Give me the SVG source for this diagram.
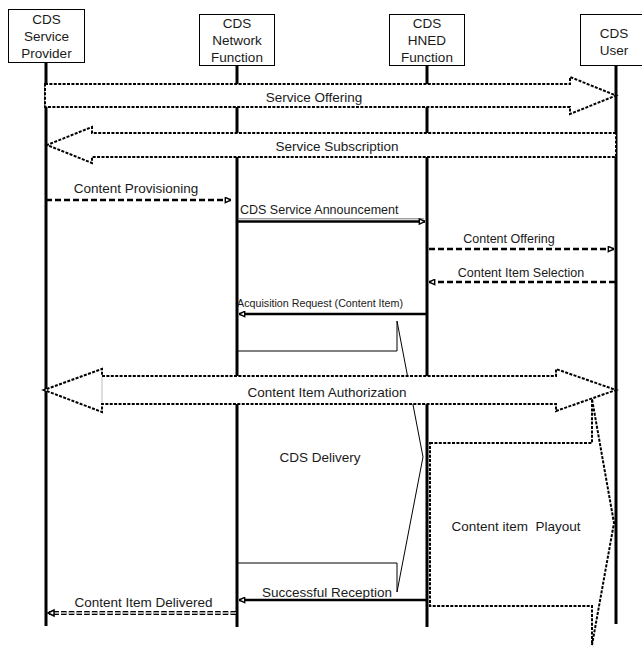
<svg xmlns="http://www.w3.org/2000/svg" width="642" height="648" viewBox="0 0 642 648">
<style>
  text { font-family: "Liberation Sans", Arial, sans-serif; fill: #1a1a1a; }
  .hdr { font-size: 13.5px; text-anchor: middle; }
  .lbl { font-size: 13.5px; text-anchor: middle; }
  .sm { font-size: 12.5px; text-anchor: middle; }
  .box { fill: #fff; stroke: #000; stroke-width: 1; }
  .life { stroke: #000; stroke-width: 3; }
  .blk { fill: #fff; stroke: #000; stroke-width: 2; stroke-dasharray: 3 1.4; }
  .dmsg { fill: none; stroke: #000; stroke-width: 2.5; stroke-dasharray: 6 3; }
  .smsg { fill: none; stroke: #000; stroke-width: 2.5; }
  .thin { fill: none; stroke: #000; stroke-width: 1; }
</style>
<defs>
  <marker id="ah" viewBox="0 0 8 8" refX="7.5" refY="4" markerWidth="7" markerHeight="7" orient="auto-start-reverse" markerUnits="userSpaceOnUse">
    <path d="M1,1 L7.5,4 L1,7 Z" fill="#fff" stroke="#000" stroke-width="1.6" stroke-dasharray="none"/>
  </marker>
</defs>

<!-- lifelines -->
<g id="lifelines">
  <line class="life" x1="46" y1="62" x2="46" y2="626"/>
  <line class="life" x1="237" y1="65" x2="237" y2="627"/>
  <line class="life" x1="427" y1="65" x2="427" y2="627"/>
  <line class="life" x1="616" y1="65" x2="616" y2="624"/>
</g>

<g id="sp">
  <rect class="box" x="8.5" y="9.5" width="76" height="53"/>
  <text class="hdr" x="46.5" y="24">CDS</text>
  <text class="hdr" x="46.5" y="41">Service</text>
  <text class="hdr" x="46.5" y="58">Provider</text>
</g>
<g id="nf">
  <rect class="box" x="199.5" y="14.5" width="75" height="51"/>
  <text class="hdr" x="237" y="28">CDS</text>
  <text class="hdr" x="237" y="45">Network</text>
  <text class="hdr" x="237" y="62">Function</text>
</g>
<g id="hned">
  <rect class="box" x="389.5" y="14.5" width="75" height="51"/>
  <text class="hdr" x="427" y="28">CDS</text>
  <text class="hdr" x="427" y="45">HNED</text>
  <text class="hdr" x="427" y="62">Function</text>
</g>
<g id="user">
  <rect class="box" x="580.5" y="14.5" width="62" height="51"/>
  <text class="hdr" x="614" y="38">CDS</text>
  <text class="hdr" x="614" y="55">User</text>
</g>

<g id="connectors">
  <!-- Service Offering -->
  <polygon class="blk" points="45,84 570,84 570,77 616,95.5 570,114 570,107 45,107"/>
  <!-- Service Subscription -->
  <polygon class="blk" points="616,133 92,133 92,127 47,145 92,163 92,157 616,157"/>
  <!-- Content Provisioning -->
  <line class="dmsg" x1="46" y1="200" x2="231" y2="200" marker-end="url(#ah)"/>
  <!-- CDS Service Announcement -->
  <line x1="238" y1="218.8" x2="424" y2="218.8" stroke="#777" stroke-width="1"/>
  <line class="smsg" x1="238" y1="221.5" x2="425" y2="221.5" stroke-width="2" marker-end="url(#ah)"/>
  <!-- Content Offering -->
  <line class="dmsg" x1="429" y1="249" x2="614" y2="249" marker-end="url(#ah)"/>
  <!-- Content Item Selection -->
  <line class="dmsg" x1="615" y1="282" x2="429" y2="282" marker-end="url(#ah)"/>
  <!-- Acquisition Request -->
  <line class="smsg" x1="426" y1="314" x2="239" y2="314" marker-end="url(#ah)"/>
  <!-- CDS Delivery -->
  <polygon class="thin" points="237,351 397,351 397,321 423,457 397,592 397,563 237,563"/>
  <!-- Content item Playout -->
  <polygon class="blk" points="430,443 592,443 592,399 614,523 592,645 592,606 430,606"/>
  <!-- Content Item Authorization -->
  <polygon class="blk" points="102,376 556,376 556,369 616,390 556,411 556,404 102,404 102,412 44,390 102,369"/>
  <line x1="102" y1="377" x2="102" y2="403" stroke="#bbb" stroke-width="1"/>
  <!-- Successful Reception -->
  <line class="smsg" x1="426" y1="600" x2="239" y2="600" marker-end="url(#ah)"/>
  <!-- Content Item Delivered -->
  <line x1="236" y1="613" x2="49" y2="613" stroke="#000" stroke-width="4" stroke-dasharray="5.5 2.2"/>
  <line x1="236" y1="613" x2="49" y2="613" stroke="#ddd" stroke-width="1.4" stroke-dasharray="5.5 2.2"/>
  <path d="M48,613 L54,610 L54,616 Z" fill="#fff" stroke="#000" stroke-width="1.5"/>
</g>

<g id="labels">
  <text class="lbl" x="314" y="101.5">Service Offering</text>
  <text class="lbl" x="337" y="151">Service Subscription</text>
  <text class="lbl" x="136" y="193">Content Provisioning</text>
  <text x="240" y="214" font-size="12.5">CDS Service Announcement</text>
  <text class="sm" x="509" y="243">Content Offering</text>
  <text class="sm" x="521" y="277">Content Item Selection</text>
  <text x="237" y="307" font-size="10.7" textLength="166" lengthAdjust="spacingAndGlyphs">Acquisition Request (Content Item)</text>
  <text class="lbl" x="327" y="396.5">Content Item Authorization</text>
  <text class="lbl" x="320" y="462">CDS Delivery</text>
  <text class="lbl" x="516" y="531" xml:space="preserve">Content item  Playout</text>
  <text class="lbl" x="327" y="597">Successful Reception</text>
  <text class="lbl" x="143.5" y="607">Content Item Delivered</text>
</g>
</svg>
